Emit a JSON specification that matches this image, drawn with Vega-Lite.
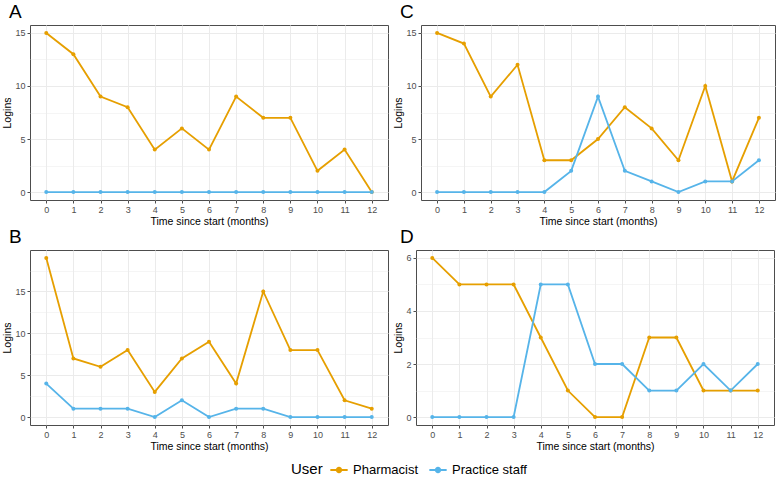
{
  "$schema": "https://vega.github.io/schema/vega-lite/v6.json",
  "padding": {"left": 2, "top": 2, "right": 2, "bottom": 2},
  "background": "white",
  "data": {"values": [
    {"panel":"A","user":"Pharmacist","month":0,"logins":15},{"panel":"A","user":"Pharmacist","month":1,"logins":13},{"panel":"A","user":"Pharmacist","month":2,"logins":9},{"panel":"A","user":"Pharmacist","month":3,"logins":8},{"panel":"A","user":"Pharmacist","month":4,"logins":4},{"panel":"A","user":"Pharmacist","month":5,"logins":6},{"panel":"A","user":"Pharmacist","month":6,"logins":4},{"panel":"A","user":"Pharmacist","month":7,"logins":9},{"panel":"A","user":"Pharmacist","month":8,"logins":7},{"panel":"A","user":"Pharmacist","month":9,"logins":7},{"panel":"A","user":"Pharmacist","month":10,"logins":2},{"panel":"A","user":"Pharmacist","month":11,"logins":4},{"panel":"A","user":"Pharmacist","month":12,"logins":0},
    {"panel":"A","user":"Practice staff","month":0,"logins":0},{"panel":"A","user":"Practice staff","month":1,"logins":0},{"panel":"A","user":"Practice staff","month":2,"logins":0},{"panel":"A","user":"Practice staff","month":3,"logins":0},{"panel":"A","user":"Practice staff","month":4,"logins":0},{"panel":"A","user":"Practice staff","month":5,"logins":0},{"panel":"A","user":"Practice staff","month":6,"logins":0},{"panel":"A","user":"Practice staff","month":7,"logins":0},{"panel":"A","user":"Practice staff","month":8,"logins":0},{"panel":"A","user":"Practice staff","month":9,"logins":0},{"panel":"A","user":"Practice staff","month":10,"logins":0},{"panel":"A","user":"Practice staff","month":11,"logins":0},{"panel":"A","user":"Practice staff","month":12,"logins":0},
    {"panel":"C","user":"Pharmacist","month":0,"logins":15},{"panel":"C","user":"Pharmacist","month":1,"logins":14},{"panel":"C","user":"Pharmacist","month":2,"logins":9},{"panel":"C","user":"Pharmacist","month":3,"logins":12},{"panel":"C","user":"Pharmacist","month":4,"logins":3},{"panel":"C","user":"Pharmacist","month":5,"logins":3},{"panel":"C","user":"Pharmacist","month":6,"logins":5},{"panel":"C","user":"Pharmacist","month":7,"logins":8},{"panel":"C","user":"Pharmacist","month":8,"logins":6},{"panel":"C","user":"Pharmacist","month":9,"logins":3},{"panel":"C","user":"Pharmacist","month":10,"logins":10},{"panel":"C","user":"Pharmacist","month":11,"logins":1},{"panel":"C","user":"Pharmacist","month":12,"logins":7},
    {"panel":"C","user":"Practice staff","month":0,"logins":0},{"panel":"C","user":"Practice staff","month":1,"logins":0},{"panel":"C","user":"Practice staff","month":2,"logins":0},{"panel":"C","user":"Practice staff","month":3,"logins":0},{"panel":"C","user":"Practice staff","month":4,"logins":0},{"panel":"C","user":"Practice staff","month":5,"logins":2},{"panel":"C","user":"Practice staff","month":6,"logins":9},{"panel":"C","user":"Practice staff","month":7,"logins":2},{"panel":"C","user":"Practice staff","month":8,"logins":1},{"panel":"C","user":"Practice staff","month":9,"logins":0},{"panel":"C","user":"Practice staff","month":10,"logins":1},{"panel":"C","user":"Practice staff","month":11,"logins":1},{"panel":"C","user":"Practice staff","month":12,"logins":3},
    {"panel":"B","user":"Pharmacist","month":0,"logins":19},{"panel":"B","user":"Pharmacist","month":1,"logins":7},{"panel":"B","user":"Pharmacist","month":2,"logins":6},{"panel":"B","user":"Pharmacist","month":3,"logins":8},{"panel":"B","user":"Pharmacist","month":4,"logins":3},{"panel":"B","user":"Pharmacist","month":5,"logins":7},{"panel":"B","user":"Pharmacist","month":6,"logins":9},{"panel":"B","user":"Pharmacist","month":7,"logins":4},{"panel":"B","user":"Pharmacist","month":8,"logins":15},{"panel":"B","user":"Pharmacist","month":9,"logins":8},{"panel":"B","user":"Pharmacist","month":10,"logins":8},{"panel":"B","user":"Pharmacist","month":11,"logins":2},{"panel":"B","user":"Pharmacist","month":12,"logins":1},
    {"panel":"B","user":"Practice staff","month":0,"logins":4},{"panel":"B","user":"Practice staff","month":1,"logins":1},{"panel":"B","user":"Practice staff","month":2,"logins":1},{"panel":"B","user":"Practice staff","month":3,"logins":1},{"panel":"B","user":"Practice staff","month":4,"logins":0},{"panel":"B","user":"Practice staff","month":5,"logins":2},{"panel":"B","user":"Practice staff","month":6,"logins":0},{"panel":"B","user":"Practice staff","month":7,"logins":1},{"panel":"B","user":"Practice staff","month":8,"logins":1},{"panel":"B","user":"Practice staff","month":9,"logins":0},{"panel":"B","user":"Practice staff","month":10,"logins":0},{"panel":"B","user":"Practice staff","month":11,"logins":0},{"panel":"B","user":"Practice staff","month":12,"logins":0},
    {"panel":"D","user":"Pharmacist","month":0,"logins":6},{"panel":"D","user":"Pharmacist","month":1,"logins":5},{"panel":"D","user":"Pharmacist","month":2,"logins":5},{"panel":"D","user":"Pharmacist","month":3,"logins":5},{"panel":"D","user":"Pharmacist","month":4,"logins":3},{"panel":"D","user":"Pharmacist","month":5,"logins":1},{"panel":"D","user":"Pharmacist","month":6,"logins":0},{"panel":"D","user":"Pharmacist","month":7,"logins":0},{"panel":"D","user":"Pharmacist","month":8,"logins":3},{"panel":"D","user":"Pharmacist","month":9,"logins":3},{"panel":"D","user":"Pharmacist","month":10,"logins":1},{"panel":"D","user":"Pharmacist","month":11,"logins":1},{"panel":"D","user":"Pharmacist","month":12,"logins":1},
    {"panel":"D","user":"Practice staff","month":0,"logins":0},{"panel":"D","user":"Practice staff","month":1,"logins":0},{"panel":"D","user":"Practice staff","month":2,"logins":0},{"panel":"D","user":"Practice staff","month":3,"logins":0},{"panel":"D","user":"Practice staff","month":4,"logins":5},{"panel":"D","user":"Practice staff","month":5,"logins":5},{"panel":"D","user":"Practice staff","month":6,"logins":2},{"panel":"D","user":"Practice staff","month":7,"logins":2},{"panel":"D","user":"Practice staff","month":8,"logins":1},{"panel":"D","user":"Practice staff","month":9,"logins":1},{"panel":"D","user":"Practice staff","month":10,"logins":2},{"panel":"D","user":"Practice staff","month":11,"logins":1},{"panel":"D","user":"Practice staff","month":12,"logins":2}
  ]},
  "vconcat": [
    {"hconcat": [
      {"title": "A", "width": 358, "height": 175,
       "transform": [{"filter": "datum.panel === 'A'"}],
       "encoding": {
         "x": {"field": "month", "type": "quantitative", "scale": {"domain": [-0.6, 12.6], "nice": false, "zero": false}, "axis": {"title": "Time since start (months)", "format": "d", "values": [0,0.5,1,1.5,2,2.5,3,3.5,4,4.5,5,5.5,6,6.5,7,7.5,8,8.5,9,9.5,10,10.5,11,11.5,12], "labelExpr": "datum.value % 1 === 0 ? datum.label : ''", "gridWidth": {"condition": {"test": "datum.value % 1 !== 0", "value": 0.5}, "value": 1}, "tickOpacity": {"condition": {"test": "datum.value % 1 !== 0", "value": 0}, "value": 1}}},
         "y": {"field": "logins", "type": "quantitative", "scale": {"domain": [-0.75, 15.75], "nice": false, "zero": false}, "axis": {"title": "Logins", "format": "d", "values": [0,2.5,5,7.5,10,12.5,15], "labelExpr": "datum.value % 5 === 0 ? datum.label : ''", "gridWidth": {"condition": {"test": "datum.value % 5 !== 0", "value": 0.5}, "value": 1}, "tickOpacity": {"condition": {"test": "datum.value % 5 !== 0", "value": 0}, "value": 1}}},
         "color": {"field": "user", "type": "nominal", "title": "User", "scale": {"domain": ["Pharmacist", "Practice staff"], "range": ["#E69F00", "#56B4E9"]}, "legend": {"orient": "none", "legendX": 261, "legendY": 435}}
       },
       "layer": [
         {"mark": {"type": "line", "strokeWidth": 1.8}, "encoding": {}},
         {"mark": {"type": "point", "filled": true, "size": 16, "opacity": 1}, "encoding": {}}
       ]},
      {"title": "C", "width": 354, "height": 175,
       "transform": [{"filter": "datum.panel === 'C'"}],
       "encoding": {
         "x": {"field": "month", "type": "quantitative", "scale": {"domain": [-0.6, 12.6], "nice": false, "zero": false}, "axis": {"title": "Time since start (months)", "format": "d", "values": [0,0.5,1,1.5,2,2.5,3,3.5,4,4.5,5,5.5,6,6.5,7,7.5,8,8.5,9,9.5,10,10.5,11,11.5,12], "labelExpr": "datum.value % 1 === 0 ? datum.label : ''", "gridWidth": {"condition": {"test": "datum.value % 1 !== 0", "value": 0.5}, "value": 1}, "tickOpacity": {"condition": {"test": "datum.value % 1 !== 0", "value": 0}, "value": 1}}},
         "y": {"field": "logins", "type": "quantitative", "scale": {"domain": [-0.75, 15.75], "nice": false, "zero": false}, "axis": {"title": "Logins", "format": "d", "values": [0,2.5,5,7.5,10,12.5,15], "labelExpr": "datum.value % 5 === 0 ? datum.label : ''", "gridWidth": {"condition": {"test": "datum.value % 5 !== 0", "value": 0.5}, "value": 1}, "tickOpacity": {"condition": {"test": "datum.value % 5 !== 0", "value": 0}, "value": 1}}},
         "color": {"field": "user", "type": "nominal", "title": "User", "scale": {"domain": ["Pharmacist", "Practice staff"], "range": ["#E69F00", "#56B4E9"]}}
       },
       "layer": [
         {"mark": {"type": "line", "strokeWidth": 1.8}, "encoding": {}},
         {"mark": {"type": "point", "filled": true, "size": 16, "opacity": 1}, "encoding": {}}
       ]}
    ]},
    {"hconcat": [
      {"title": "B", "width": 358, "height": 175,
       "transform": [{"filter": "datum.panel === 'B'"}],
       "encoding": {
         "x": {"field": "month", "type": "quantitative", "scale": {"domain": [-0.6, 12.6], "nice": false, "zero": false}, "axis": {"title": "Time since start (months)", "format": "d", "values": [0,0.5,1,1.5,2,2.5,3,3.5,4,4.5,5,5.5,6,6.5,7,7.5,8,8.5,9,9.5,10,10.5,11,11.5,12], "labelExpr": "datum.value % 1 === 0 ? datum.label : ''", "gridWidth": {"condition": {"test": "datum.value % 1 !== 0", "value": 0.5}, "value": 1}, "tickOpacity": {"condition": {"test": "datum.value % 1 !== 0", "value": 0}, "value": 1}}},
         "y": {"field": "logins", "type": "quantitative", "scale": {"domain": [-0.95, 19.95], "nice": false, "zero": false}, "axis": {"title": "Logins", "format": "d", "values": [0,2.5,5,7.5,10,12.5,15,17.5], "labelExpr": "datum.value % 5 === 0 ? datum.label : ''", "gridWidth": {"condition": {"test": "datum.value % 5 !== 0", "value": 0.5}, "value": 1}, "tickOpacity": {"condition": {"test": "datum.value % 5 !== 0", "value": 0}, "value": 1}}},
         "color": {"field": "user", "type": "nominal", "title": "User", "scale": {"domain": ["Pharmacist", "Practice staff"], "range": ["#E69F00", "#56B4E9"]}}
       },
       "layer": [
         {"mark": {"type": "line", "strokeWidth": 1.8}, "encoding": {}},
         {"mark": {"type": "point", "filled": true, "size": 16, "opacity": 1}, "encoding": {}}
       ]},
      {"title": "D", "width": 358, "height": 175,
       "transform": [{"filter": "datum.panel === 'D'"}],
       "encoding": {
         "x": {"field": "month", "type": "quantitative", "scale": {"domain": [-0.6, 12.6], "nice": false, "zero": false}, "axis": {"title": "Time since start (months)", "format": "d", "values": [0,0.5,1,1.5,2,2.5,3,3.5,4,4.5,5,5.5,6,6.5,7,7.5,8,8.5,9,9.5,10,10.5,11,11.5,12], "labelExpr": "datum.value % 1 === 0 ? datum.label : ''", "gridWidth": {"condition": {"test": "datum.value % 1 !== 0", "value": 0.5}, "value": 1}, "tickOpacity": {"condition": {"test": "datum.value % 1 !== 0", "value": 0}, "value": 1}}},
         "y": {"field": "logins", "type": "quantitative", "scale": {"domain": [-0.3, 6.3], "nice": false, "zero": false}, "axis": {"title": "Logins", "format": "d", "values": [0,1,2,3,4,5,6], "labelExpr": "datum.value % 2 === 0 ? datum.label : ''", "gridWidth": {"condition": {"test": "datum.value % 2 !== 0", "value": 0.5}, "value": 1}, "tickOpacity": {"condition": {"test": "datum.value % 2 !== 0", "value": 0}, "value": 1}}},
         "color": {"field": "user", "type": "nominal", "title": "User", "scale": {"domain": ["Pharmacist", "Practice staff"], "range": ["#E69F00", "#56B4E9"]}}
       },
       "layer": [
         {"mark": {"type": "line", "strokeWidth": 1.8}, "encoding": {}},
         {"mark": {"type": "point", "filled": true, "size": 16, "opacity": 1}, "encoding": {}}
       ]}
    ], "spacing": 4}
  ],
  "spacing": 0,
  "config": {
    "font": "Liberation Sans",
    "concat": {"spacing": 4},
    "view": {"stroke": "#4d4d4d", "strokeWidth": 1},
    "title": {"anchor": "start", "frame": "bounds", "fontSize": 19, "fontWeight": "normal", "color": "black", "offset": 3, "dx": 6},
    "axis": {"domain": false, "grid": true, "gridColor": "#EBEBEB", "tickColor": "#4d4d4d", "tickSize": 3, "labelFontSize": 9, "labelColor": "#4D4D4D", "labelPadding": 2, "titleFontSize": 10.5, "titleFontWeight": "normal", "titleColor": "black", "titlePadding": 2, "labelFlush": false, "labelOverlap": false},
    "legend": {"direction": "horizontal", "titleOrient": "left", "titleFontSize": 15, "titleFontWeight": "normal", "titleColor": "black", "titlePadding": 6, "labelFontSize": 13, "labelColor": "black", "symbolType": "M -1 0 L 1 0 M 0.25 0 A 0.25 0.25 0 1 1 -0.25 0 A 0.25 0.25 0 1 1 0.25 0", "symbolSize": 300, "symbolStrokeWidth": 2, "columnPadding": 6, "labelOffset": 4}
  }
}
